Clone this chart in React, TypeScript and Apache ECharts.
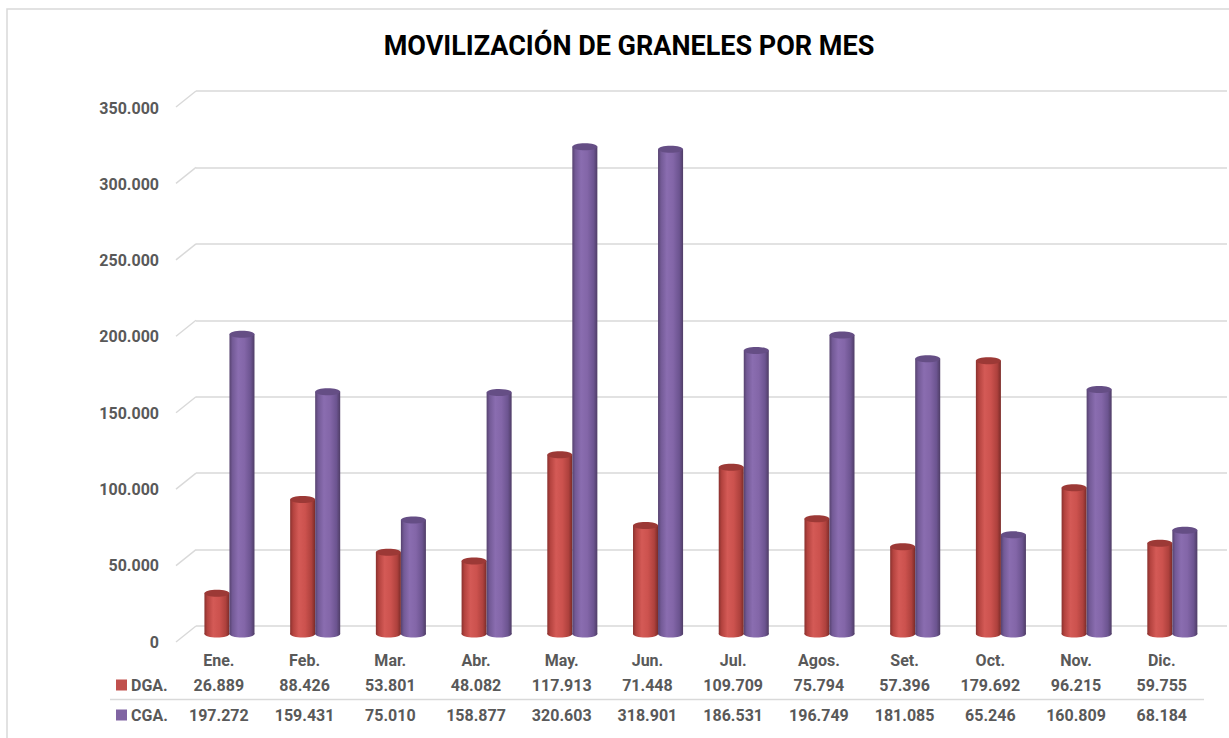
import React, { useEffect, useRef } from 'react';
import * as echarts from 'echarts';

const months = ['Ene.', 'Feb.', 'Mar.', 'Abr.', 'May.', 'Jun.', 'Jul.', 'Agos.', 'Set.', 'Oct.', 'Nov.', 'Dic.'];
const dga = [26889, 88426, 53801, 48082, 117913, 71448, 109709, 75794, 57396, 179692, 96215, 59755];
const cga = [197272, 159431, 75010, 158877, 320603, 318901, 186531, 196749, 181085, 65246, 160809, 68184];
const yTicks = [0, 50000, 100000, 150000, 200000, 250000, 300000, 350000];
const seriesNames = ['DGA.', 'CGA.'];
const titleText = 'MOVILIZACIÓN DE GRANELES POR MES';

const FONT = 'Roboto';
const TXT = '#595959';
const GRIDC = '#d9d9d9';

const fmt = (v: number) => String(v).replace(/\B(?=(\d{3})+(?!\d))/g, '.');

const redGrad = () =>
  new echarts.graphic.LinearGradient(0, 0, 1, 0, [
    { offset: 0, color: '#8a312e' },
    { offset: 0.12, color: '#b4433f' },
    { offset: 0.35, color: '#d45a56' },
    { offset: 0.6, color: '#cc524e' },
    { offset: 0.85, color: '#ae413d' },
    { offset: 1, color: '#7a2b28' },
  ]);
const purpleGrad = () =>
  new echarts.graphic.LinearGradient(0, 0, 1, 0, [
    { offset: 0, color: '#56426f' },
    { offset: 0.12, color: '#735a96' },
    { offset: 0.35, color: '#8a6db0' },
    { offset: 0.6, color: '#8366a8' },
    { offset: 0.85, color: '#6c5490' },
    { offset: 1, color: '#4f3d66' },
  ]);

function cylinder(side: number, gradFn: () => any, topColor: string) {
  return (params: any, api: any) => {
    const idx = api.value(0);
    const v = api.value(1);
    const base = api.coord([idx, 0]);
    const top = api.coord([idx, v]);
    const band = api.size([1, 0])[0];
    const w = band * 0.292;
    const cx = base[0] + side * w / 2;
    const ry = 3.5;
    return {
      type: 'group',
      children: [
        { type: 'ellipse', shape: { cx, cy: base[1], rx: w / 2, ry }, style: { fill: gradFn() } },
        { type: 'rect', shape: { x: cx - w / 2, y: top[1], width: w, height: base[1] - top[1] }, style: { fill: gradFn() } },
        { type: 'ellipse', shape: { cx, cy: top[1], rx: w / 2, ry }, style: { fill: topColor } },
      ],
    };
  };
}

export default function App() {
  const ref = useRef<HTMLDivElement>(null);
  useEffect(() => {
    const chart = echarts.init(ref.current!, null, { renderer: 'svg' });
    const labelStyle = { fontFamily: FONT, fontWeight: 'bold' as const, fontSize: 16, color: TXT };
    const option: any = {
      animation: false,
      backgroundColor: '#ffffff',
      title: {
        text: titleText,
        left: 624,
        top: 27,
        textAlign: 'center',
        textStyle: { fontFamily: FONT, fontWeight: 'bold', fontSize: 27, color: '#000000' },
      },
      grid: [
        { left: 176, top: 108, width: 1028.6, height: 534 },
        { left: 196, top: 91, width: 1031, height: 535 },
        { left: 186.6, top: 102, width: 1028.6, height: 532 },
      ],
      xAxis: [
        {
          gridIndex: 0,
          type: 'category',
          data: months,
          axisLine: { show: false },
          axisTick: { show: false },
          splitLine: { show: false },
          axisLabel: {
            interval: 0,
            margin: 5,
            formatter: (value: string, index: number) =>
              `{c|${value}}\n{d|${fmt(dga[index])}}\n{e|${fmt(cga[index])}}`,
            rich: {
              c: { ...labelStyle, lineHeight: 26 },
              d: { ...labelStyle, lineHeight: 24 },
              e: { ...labelStyle, lineHeight: 36 },
            },
          },
        },
        { gridIndex: 1, type: 'value', min: 0, max: 1, show: false },
        { gridIndex: 2, type: 'category', data: months, show: false },
      ],
      yAxis: [
        {
          gridIndex: 0,
          type: 'value',
          min: 0,
          max: 350000,
          interval: 50000,
          axisLine: { show: false },
          axisTick: { show: false },
          splitLine: { show: false },
          axisLabel: { ...labelStyle, margin: 17, formatter: (v: number) => fmt(v) },
        },
        {
          gridIndex: 1,
          type: 'value',
          min: 0,
          max: 350000,
          interval: 50000,
          axisLine: { show: false },
          axisTick: { show: false },
          axisLabel: { show: false },
          splitLine: { show: true, lineStyle: { color: GRIDC, width: 1.5 } },
        },
        { gridIndex: 2, type: 'value', min: 0, max: 350000, interval: 50000, show: false },
      ],
      series: [
        {
          type: 'custom',
          xAxisIndex: 1,
          yAxisIndex: 1,
          clip: false,
          silent: true,
          data: yTicks.map((v) => [0, v]),
          renderItem: (params: any, api: any) => {
            const p = api.coord([0, api.value(1)]);
            return {
              type: 'line',
              shape: { x1: p[0] - 20, y1: p[1] + 16, x2: p[0], y2: p[1] },
              style: { stroke: GRIDC, lineWidth: 1.5 },
            };
          },
        },
        {
          name: seriesNames[0],
          type: 'custom',
          xAxisIndex: 2,
          yAxisIndex: 2,
          clip: false,
          data: dga.map((v, i) => [i, v]),
          renderItem: cylinder(-1, redGrad, '#9c3936'),
        },
        {
          name: seriesNames[1],
          type: 'custom',
          xAxisIndex: 2,
          yAxisIndex: 2,
          clip: false,
          data: cga.map((v, i) => [i, v]),
          renderItem: cylinder(1, purpleGrad, '#654e85'),
        },
      ],
      graphic: [
        {
          type: 'rect',
          shape: { x: 7, y: 9, width: 1300, height: 800 },
          style: { fill: 'none', stroke: GRIDC, lineWidth: 1.5 },
          silent: true,
          z: -10,
        },
        {
          type: 'line',
          shape: { x1: 110, y1: 699.5, x2: 1204, y2: 699.5 },
          style: { stroke: GRIDC, lineWidth: 1.5 },
        },
        { type: 'rect', shape: { x: 116, y: 679.5, width: 11, height: 11 }, style: { fill: '#C0504D' } },
        { type: 'rect', shape: { x: 116, y: 709.5, width: 11, height: 11 }, style: { fill: '#8064A2' } },
        {
          type: 'text',
          x: 131,
          y: 685,
          style: { text: seriesNames[0], fill: TXT, font: `bold 16px ${FONT}`, textVerticalAlign: 'middle', verticalAlign: 'middle' },
        },
        {
          type: 'text',
          x: 131,
          y: 715,
          style: { text: seriesNames[1], fill: TXT, font: `bold 16px ${FONT}`, textVerticalAlign: 'middle', verticalAlign: 'middle' },
        },
      ],
    };
    chart.setOption(option);
    return () => chart.dispose();
  }, []);
  return (
    <div
      ref={ref}
      style={{ position: 'fixed', left: 0, top: 0, width: 1229, height: 738, background: '#fff' }}
    />
  );
}
